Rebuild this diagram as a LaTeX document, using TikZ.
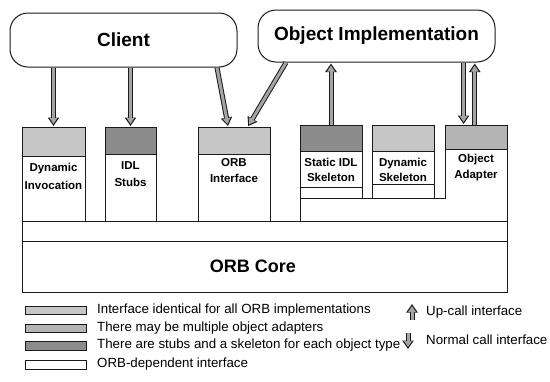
\documentclass[tikz,border=0pt]{standalone}
\usepackage{fontspec}
\setmainfont{Liberation Sans}
\usetikzlibrary{arrows.meta,calc}
\definecolor{shadelight}{HTML}{C6C6C6}
\definecolor{shademid}{HTML}{B4B4B4}
\definecolor{shadedark}{HTML}{8C8C8C}
\definecolor{arrowfill}{HTML}{A4A4A4}
\definecolor{inkline}{HTML}{1A1A1A}
\tikzset{
  pane/.style={rectangle, draw=inkline, line width=0.9pt, fill=white,
    anchor=north west, inner sep=0pt, outer sep=0pt},
  roundbox/.style={rectangle, rounded corners=18pt, draw=inkline, line width=1pt,
    fill=white, inner sep=0pt, font=\bfseries\fontsize{19}{21}\selectfont},
  boxlabel/.style={align=center, inner sep=0pt,
    font=\bfseries\fontsize{11.5}{16}\selectfont},
  keytext/.style={anchor=west, inner sep=0pt, font=\fontsize{13.3}{15}\selectfont},
  swatch/.style={pane, line width=0.8pt, minimum width=61pt, minimum height=8.5pt},
  callarrow/.style={draw=arrowfill, line width=3pt,
    -{Triangle[length=6pt,width=7.5pt]}, shorten >=3pt,
    preaction={draw=inkline, line width=5pt,
      -{Triangle[length=8.5pt,width=11pt]}, shorten >=1pt}},
}
\begin{document}
\begin{tikzpicture}[x=1pt,y=-1pt]
\useasboundingbox (0,0) rectangle (550,381);

% client and object implementation
\node[roundbox, minimum width=227pt, minimum height=54pt] (client) at (123.5,40) {Client};
\node[roundbox, minimum width=237pt, minimum height=52pt] (impl) at (376.5,36) {Object Implementation};

% object adapter (L-shaped base under the skeletons)
\draw[draw=inkline, line width=0.9pt, fill=white]
  (445,125) -- (507,125) -- (507,221) -- (300,221) -- (300,198) -- (445,198) -- cycle;
\node[pane, fill=shademid, minimum width=62pt, minimum height=24pt] (oacap) at (445,125) {};
\node[boxlabel] (oalbl) at (476,168) {Object\\Adapter};

% static IDL skeleton
\node[pane, minimum width=62pt, minimum height=62pt] (sskel) at (300,125) {};
\node[pane, minimum width=62pt, minimum height=11pt] (sskelfoot) at (300,187) {};
\node[pane, fill=shadedark, minimum width=62pt, minimum height=26pt] (sskelcap) at (300,125) {};
\node[boxlabel, font=\bfseries\fontsize{11.5}{15}\selectfont] (sskellbl) at (331,169.5) {Static IDL\\Skeleton};

% dynamic skeleton
\node[pane, minimum width=62pt, minimum height=59pt] (dskel) at (372,125) {};
\node[pane, minimum width=62pt, minimum height=14pt] (dskelfoot) at (372,184) {};
\node[pane, fill=shadelight, minimum width=62pt, minimum height=26pt] (dskelcap) at (372,125) {};
\node[boxlabel, font=\bfseries\fontsize{11.5}{15}\selectfont] (dskellbl) at (403,169.5) {Dynamic\\Skeleton};

% client-side interfaces
\node[pane, minimum width=63pt, minimum height=94pt] (dinv) at (22,127) {};
\node[pane, fill=shadelight, minimum width=63pt, minimum height=29pt] (dinvcap) at (22,127) {};
\node[boxlabel, font=\bfseries\fontsize{11.5}{18}\selectfont] (dinvlbl) at (53.5,176) {Dynamic\\Invocation};

\node[pane, minimum width=51pt, minimum height=94pt] (stubs) at (105,127) {};
\node[pane, fill=shadedark, minimum width=51pt, minimum height=27pt] (stubscap) at (105,127) {};
\node[boxlabel, font=\bfseries\fontsize{11.5}{17}\selectfont] (stubslbl) at (130.5,174.5) {IDL\\Stubs};

\node[pane, minimum width=72pt, minimum height=94pt] (orbif) at (198,127) {};
\node[pane, fill=shadelight, minimum width=72pt, minimum height=27pt] (orbifcap) at (198,127) {};
\node[boxlabel] (orbiflbl) at (234,171) {ORB\\Interface};

% ORB core
\node[pane, minimum width=485pt, minimum height=20pt] (band) at (22,221) {};
\node[pane, minimum width=485pt, minimum height=51pt] (core) at (22,241) {};
\node[inner sep=0pt, font=\bfseries\fontsize{18}{20}\selectfont] (corelbl) at (253,266) {ORB Core};

% calls between the components
\draw[callarrow] (dinvcap.north |- client.south) -- (dinvcap.north);
\draw[callarrow] (stubscap.north |- client.south) -- (stubscap.north);
\draw[callarrow] ($(client.south west)!0.91!(client.south east)$)
  -- ($(orbifcap.north west)!0.42!(orbifcap.north east)$);
\draw[callarrow] ($(impl.south west)!0.12!(impl.south east)$)
  -- ($(orbifcap.north west)!0.69!(orbifcap.north east)$);
\draw[callarrow] (sskelcap.north) -- (sskelcap.north |- impl.south);
\coordinate (oain) at ($(oacap.north west)!0.3!(oacap.north east)$);
\coordinate (oaout) at ($(oacap.north west)!0.48!(oacap.north east)$);
\draw[callarrow] (oain |- impl.south) -- (oain);
\draw[callarrow] (oaout) -- (oaout |- impl.south);

% legend
\node[swatch, fill=shadelight] (key1) at (25,306) {};
\node[keytext] (key1txt) at (97,310) {Interface identical for all ORB implementations};
\node[swatch, fill=shademid] (key2) at (25,324) {};
\node[keytext] (key2txt) at (97,328) {There may be multiple object adapters};
\node[swatch, fill=shadedark] (key3) at (25,341.5) {};
\node[keytext] (key3txt) at (97,345.5) {There are stubs and a skeleton for each object type};
\node[swatch] (key4) at (25,360.5) {};
\node[keytext] (key4txt) at (97,364.5) {ORB-dependent interface};

\coordinate (upfoot) at (412,320);
\coordinate (uphead) at (412,303);
\draw[callarrow] (upfoot) -- (uphead);
\node[keytext] (uptxt) at (426,312) {Up-call interface};
\coordinate (downtop) at (408,333);
\coordinate (downhead) at (408,350);
\draw[callarrow] (downtop) -- (downhead);
\node[keytext] (downtxt) at (426,340) {Normal call interface};
\end{tikzpicture}
\end{document}
